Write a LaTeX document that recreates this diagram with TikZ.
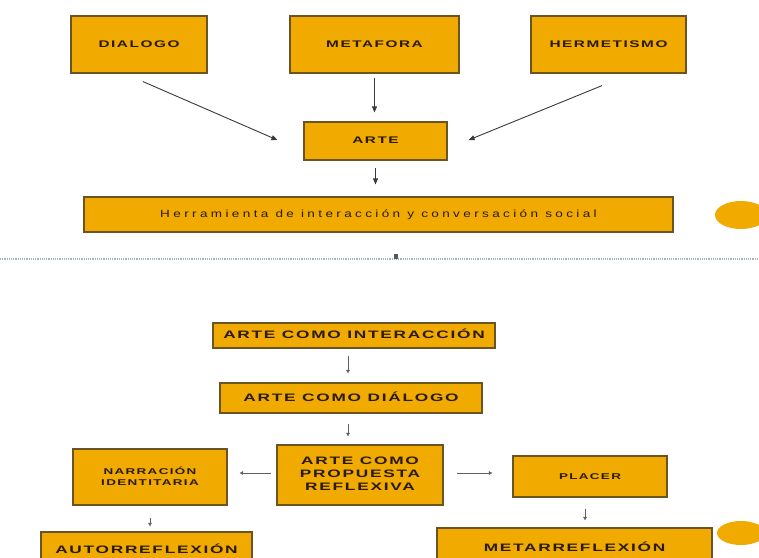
\documentclass[tikz,border=0pt]{standalone}
\usepackage{fontspec}
\usepackage{graphicx}
\newfontfamily\wideB[LetterSpace=10]{Liberation Sans}
\newfontfamily\wideR[LetterSpace=25]{Liberation Sans}
\usetikzlibrary{arrows.meta,calc}
\definecolor{boxfill}{HTML}{F0AA00}
\definecolor{boxline}{HTML}{6A5424}
\definecolor{boxtext}{HTML}{2A1A08}
\definecolor{dotline}{HTML}{A4B6C2}
\definecolor{arrgray}{HTML}{3A3A3A}
\newcommand\wx[2][1.6]{\raisebox{-3pt}[0pt][0pt]{\scalebox{#1}[1]{\begin{tabular}{@{}c@{}}#2\end{tabular}}}}
\begin{document}
\begin{tikzpicture}[x=1pt,y=-1pt,
  box/.style={draw=boxline, line width=1.2pt, fill=boxfill, text=boxtext, inner sep=0pt, align=center},
  topfont/.style={font=\wideB\bfseries\fontsize{9.6}{11}\selectfont},
  bigfont/.style={font=\wideB\bfseries\fontsize{10.8}{13}\selectfont},
  smallfont/.style={font=\wideB\bfseries\fontsize{8.4}{11}\selectfont},
  regfont/.style={font=\wideR\fontsize{10.4}{12}\selectfont},
  toparr/.style={draw=arrgray, line width=0.9pt, -{Triangle[length=6pt,width=5pt]}},
  botarr/.style={draw=arrgray!80, line width=0.6pt, -{Triangle[length=3.5pt,width=3.5pt]}},
  blob/.style={fill=boxfill}
]
\useasboundingbox (0,0) rectangle (759,557);
\clip (0,0) rectangle (759,557);
\fill[white] (0,0) rectangle (759,557);

% top diagram
\node[box, topfont, minimum width=136, minimum height=57] (dialogo) at (139,44.5) {\wx{DIALOGO}};
\node[box, topfont, minimum width=169, minimum height=57] (metafora) at (374.5,44.5) {\wx{METAFORA}};
\node[box, topfont, minimum width=155, minimum height=57] (hermetismo) at (608.5,44.5) {\wx{HERMETISMO}};
\node[box, topfont, minimum width=143, minimum height=38] (arte) at (375.5,141) {\wx{ARTE}};
\node[box, regfont, minimum width=589, minimum height=35] (herr) at (378.5,214.5) {\wx[1.3]{Herramienta de interacción y conversación social}};

\draw[toparr] ($(dialogo.south)+(4,8)$) -- ($(arte.west)+(-26,-1)$);
\draw[toparr] ($(metafora.south)+(0,4)$) -- ($(metafora.south |- arte.north)+(0,-9)$);
\draw[toparr] ($(hermetismo.south)+(-6.5,12)$) -- ($(arte.east)+(21,-1)$);
\draw[toparr] ($(arte.south)+(0,7)$) -- ($(arte.south |- herr.north)+(0,-12)$);

\fill[blob] (741,215) ellipse [x radius=26, y radius=14];

% separator
\coordinate (sepL) at (0,259);
\coordinate (sepR) at (759,259);
\draw[dotline, line width=2pt, dash pattern=on 1.2pt off 1pt] (sepL) -- (sepR);
\node[fill=arrgray!85, inner sep=0pt, minimum width=4, minimum height=5] (mark) at (396,256) {};

% bottom diagram
\node[box, bigfont, minimum width=282, minimum height=25] (inter) at (354,335.5) {\wx{ARTE COMO INTERACCIÓN}};
\node[box, bigfont, minimum width=262, minimum height=30] (dial) at (351,398) {\wx{ARTE COMO DIÁLOGO}};
\node[box, bigfont, minimum width=166, minimum height=60] (prop) at (360,475) {\wx{ARTE COMO\\PROPUESTA\\REFLEXIVA}};
\node[box, smallfont, minimum width=154, minimum height=56] (narr) at (150,477) {\wx{NARRACIÓN\\IDENTITARIA}};
\node[box, smallfont, minimum width=154, minimum height=41] (placer) at (590,476.5) {\wx{PLACER}};
\node[box, minimum width=211, minimum height=44] (auto) at (146.5,554) {};
\node[box, minimum width=275, minimum height=48] (meta) at (574.5,552) {};
\node[bigfont, text=boxtext, anchor=base, inner sep=0pt] (autotxt) at (146.5,553) {\scalebox{1.6}[1]{AUTORREFLEXIÓN}};
\node[bigfont, text=boxtext, anchor=base, inner sep=0pt] (metatxt) at (574.5,551) {\scalebox{1.6}[1]{METARREFLEXIÓN}};

\draw[botarr] ($(inter.south)+(-6,7)$) -- ($(dial.north)+(-3,-9)$);
\draw[botarr] ($(dial.south)+(-3,10)$) -- ($(prop.north)+(-12,-8)$);
\draw[botarr] ($(prop.west)+(-5,-2)$) -- ($(narr.east)+(12,-4)$);
\draw[botarr] ($(prop.east)+(13,-2)$) -- ($(placer.west)+(-20,-3.5)$);
\draw[botarr] ($(narr.south)+(0,12)$) -- ($(auto.north)+(3.5,-5)$);
\draw[botarr] ($(placer.south)+(-5,11)$) -- ($(meta.north)+(10.5,-7)$);

\fill[blob] (741,533) ellipse [x radius=24, y radius=12];
\end{tikzpicture}
\end{document}
